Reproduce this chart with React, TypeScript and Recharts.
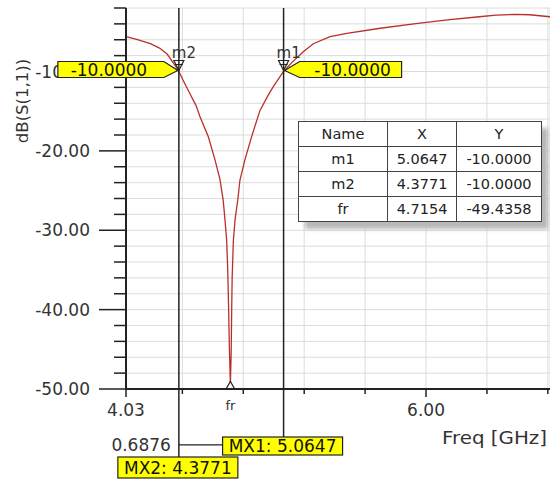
import {
  LineChart,
  Line,
  XAxis,
  YAxis,
  CartesianGrid,
  ReferenceLine,
  ReferenceDot,
} from "recharts";

// S11 sweep
const freqGHz = [
  4.03, 4.1, 4.19, 4.25, 4.3, 4.34, 4.3771, 4.41, 4.45, 4.49, 4.516, 4.57,
  4.614, 4.647, 4.668, 4.68, 4.691, 4.698, 4.704, 4.709, 4.7154, 4.721, 4.724,
  4.727, 4.735, 4.746, 4.765, 4.778, 4.811, 4.855, 4.91, 4.96, 4.997, 5.0647,
  5.12, 5.194, 5.26, 5.37, 5.48, 5.7, 5.92, 6.14, 6.35, 6.46, 6.58, 6.68, 6.814,
];
const s11dB = [
  -5.6, -5.95, -6.5, -7.05, -7.8, -8.9, -10.0, -11.3, -12.8, -14.3, -15.7,
  -18.2, -21.1, -23.6, -26.2, -28.7, -31.3, -35.0, -40.0, -45.0, -49.4358,
  -45.0, -40.0, -36.0, -31.3, -28.7, -26.0, -23.7, -21.1, -18.2, -14.9, -13.1,
  -11.9, -10.0, -8.85, -7.5, -6.5, -5.6, -5.2, -4.55, -4.0, -3.5, -3.1, -2.9,
  -2.8, -2.85, -3.1,
];

const xTicks = [4.03, 4.4, 4.8, 5.2, 5.6, 6.0, 6.4, 6.8];
const xLabelTicks = [4.03, 6.0];
const yTicks = [
  -50, -48, -46, -44, -42, -40, -38, -36, -34, -32, -30, -28, -26, -24, -22,
  -20, -18, -16, -14, -12, -10, -8, -6, -4, -2,
];

const markerNames = ["m1", "m2", "fr"];
const markerX = [5.0647, 4.3771, 4.7154];
const markerY = [-10.0, -10.0, -49.4358];
const connectorY = -57.05; // below the axis, where the delta line sits

const data = freqGHz.map((f, i) => ({ f, db: s11dB[i] }));

const FONT = "DejaVu Sans";
const INK = "#222";
const YELLOW = "#ffff00";
const X_DOMAIN = [4.03, 6.814];
const Y_DOMAIN = [-50, -2];
const W = 550;
const H = 479;
const AXIS_W = 126;
const AXIS_H = 90;

const YTick = ({ x, y, payload }: any) => {
  const v = payload.value;
  const major = v % 10 === 0;
  return (
    <g>
      <line x1={x - (major ? 27 : 12)} x2={x} y1={y} y2={y} stroke={INK} strokeWidth={1.5} />
      {major && (
        <text x={x - 36} y={y} textAnchor="end" dominantBaseline="central"
          fontFamily={FONT} fontSize={17} fill="#333">
          {v.toFixed(2)}
        </text>
      )}
    </g>
  );
};

const XTick = ({ x, y, payload }: any) => {
  const v = payload.value;
  const major = xLabelTicks.includes(v);
  return (
    <g>
      <line x1={x} x2={x} y1={y} y2={y + (major ? 8 : 5)} stroke={INK} strokeWidth={1.5} />
      {major && (
        <text x={x} y={y + 21} textAnchor="middle" dominantBaseline="central"
          fontFamily={FONT} fontSize={17} fill="#333">
          {v.toFixed(2)}
        </text>
      )}
    </g>
  );
};

const Callout = ({ cx, cy, side, name }: any) => {
  const pts =
    side === "left"
      ? [[cx - 121, cy - 10], [cx - 15, cy - 10], [cx - 1, cy - 1], [cx - 15, cy + 6], [cx - 121, cy + 6]]
      : [[cx + 1, cy - 1], [cx + 16, cy - 10], [cx + 118, cy - 10], [cx + 118, cy + 6], [cx + 16, cy + 6]];
  const tx = side === "left" ? cx - 70 : cx + 69;
  return (
    <g>
      <polygon points={pts.map((p) => p.join(",")).join(" ")} fill={YELLOW} stroke={INK} strokeWidth={1.2} />
      <text x={tx} y={cy - 2} textAnchor="middle" dominantBaseline="central"
        fontFamily={FONT} fontSize={17} fill="#111">
        {markerY[0].toFixed(4)}
      </text>
      <polygon points={`${cx - 5},${cy - 11} ${cx + 5},${cy - 11} ${cx},${cy - 1}`}
        fill="none" stroke={INK} strokeWidth={1.2} />
      <line x1={cx - 4} x2={cx + 4} y1={cy - 7} y2={cy - 7} stroke={INK} strokeWidth={1} />
      <text x={cx - 7} y={cy - 14} fontFamily={FONT} fontSize={15} fill="#333">{name}</text>
    </g>
  );
};

const ResDot = ({ cx, cy }: any) => (
  <g>
    <polygon points={`${cx - 4},${cy + 4} ${cx + 4},${cy + 4} ${cx},${cy - 3}`}
      fill="#fff" stroke={INK} strokeWidth={1.2} />
    <text x={cx} y={cy + 21} textAnchor="middle" dominantBaseline="central"
      fontFamily={FONT} fontSize={13} fill="#333">{markerNames[2]}</text>
  </g>
);

const MarkerLine = (drop: number, boxH: number, label: string, delta?: string) => (props: any) => {
  const { x1, y1, y2 } = props;
  const top = Math.min(y1, y2);
  const bottom = Math.max(y1, y2);
  const boxTop = bottom + drop;
  return (
    <g>
      <line x1={x1} x2={x1} y1={top} y2={boxTop} stroke={INK} strokeWidth={1.5} />
      {delta && (
        <text x={x1 - 8} y={bottom + 56} textAnchor="end" dominantBaseline="central"
          fontFamily={FONT} fontSize={17} fill="#333">{delta}</text>
      )}
      <rect x={x1 - 61} y={boxTop} width={120} height={boxH} fill={YELLOW} stroke={INK} strokeWidth={1.2} />
      <text x={x1 - 1} y={boxTop + boxH / 2} textAnchor="middle" dominantBaseline="central"
        fontFamily={FONT} fontSize={17} fill="#111">{label}</text>
    </g>
  );
};

const cell = { border: "1px solid #444", textAlign: "center" as const, padding: 0, height: 24 };

export default function App() {
  const delta = (markerX[0] - markerX[1]).toFixed(4);
  return (
    <div style={{ position: "absolute", left: 0, top: 0, width: W, height: H, overflow: "hidden", background: "#fff" }}>
      <LineChart width={W} height={H} data={data} margin={{ top: 8, right: 0, bottom: 0, left: 0 }}>
        <CartesianGrid stroke="#dcdcdc" strokeWidth={1} />
        <XAxis
          type="number"
          dataKey="f"
          domain={X_DOMAIN}
          ticks={xTicks}
          interval={0}
          allowDataOverflow
          height={AXIS_H}
          tickSize={0}
          tickMargin={0}
          tick={<XTick />}
          axisLine={{ stroke: INK, strokeWidth: 2 }}
          label={{
            content: ({ viewBox }: any) => (
              <text x={viewBox.x + viewBox.width - 3} y={viewBox.y + 48} textAnchor="end"
                dominantBaseline="central" fontFamily={FONT} fontSize={18} fill="#333"
                textLength={105} lengthAdjust="spacingAndGlyphs">
                Freq [GHz]
              </text>
            ),
          }}
        />
        <YAxis
          type="number"
          domain={Y_DOMAIN}
          ticks={yTicks}
          interval={0}
          width={AXIS_W}
          tickSize={0}
          tickMargin={0}
          tick={<YTick />}
          axisLine={{ stroke: INK, strokeWidth: 2 }}
          label={{
            content: ({ viewBox }: any) => (
              <text transform={`translate(${viewBox.x + 22},${viewBox.y + 93}) rotate(-90)`}
                textAnchor="middle" dominantBaseline="central" fontFamily={FONT} fontSize={16.5} fill="#333">
                dB(S(1,1))
              </text>
            ),
          }}
        />
        <Line
          type="linear"
          dataKey="db"
          stroke="#b8302c"
          strokeWidth={1.3}
          dot={false}
          isAnimationActive={false}
        />
        <ReferenceLine
          segment={[{ x: markerX[1], y: connectorY }, { x: markerX[0], y: connectorY }]}
          stroke={INK}
          strokeWidth={1.2}
          ifOverflow="visible"
        />
        <ReferenceLine x={markerX[1]} ifOverflow="visible"
          shape={MarkerLine(68, 21, `MX2: ${markerX[1].toFixed(4)}`, delta)} />
        <ReferenceLine x={markerX[0]} ifOverflow="visible"
          shape={MarkerLine(48, 18, `MX1: ${markerX[0].toFixed(4)}`)} />
        <ReferenceDot x={markerX[2]} y={markerY[2]} ifOverflow="visible"
          shape={(p: any) => <ResDot {...p} />} />
      </LineChart>

      {/* same scales again, only for the marker callouts so they sit above the axis */}
      <div style={{ position: "absolute", left: 0, top: 0, pointerEvents: "none" }}>
        <LineChart width={W} height={H} data={data} margin={{ top: 8, right: 0, bottom: AXIS_H, left: AXIS_W }}>
          <XAxis type="number" dataKey="f" domain={X_DOMAIN} allowDataOverflow hide />
          <YAxis type="number" domain={Y_DOMAIN} allowDataOverflow hide />
          <Line type="linear" dataKey="db" stroke="none" strokeOpacity={0} dot={false} activeDot={false}
            isAnimationActive={false} />
          <ReferenceDot x={markerX[1]} y={markerY[1]} ifOverflow="visible"
            shape={(p: any) => <Callout {...p} side="left" name={markerNames[1]} />} />
          <ReferenceDot x={markerX[0]} y={markerY[0]} ifOverflow="visible"
            shape={(p: any) => <Callout {...p} side="right" name={markerNames[0]} />} />
        </LineChart>
      </div>

      <div style={{ position: "absolute", left: 298, top: 121, width: 243, background: "#fff", boxShadow: "7px 7px 4px #b8b8b8" }}>
        <table style={{ borderCollapse: "collapse", width: 243, border: "1.5px solid #222", fontFamily: FONT, fontSize: 14.5, color: "#222", tableLayout: "fixed" }}>
          <colgroup>
            <col style={{ width: 89 }} />
            <col style={{ width: 69 }} />
            <col style={{ width: 85 }} />
          </colgroup>
          <tbody>
            <tr>
              <td style={cell}>Name</td>
              <td style={cell}>X</td>
              <td style={cell}>Y</td>
            </tr>
            {markerNames.map((n, i) => (
              <tr key={n}>
                <td style={cell}>{n}</td>
                <td style={cell}>{markerX[i].toFixed(4)}</td>
                <td style={cell}>{markerY[i].toFixed(4)}</td>
              </tr>
            ))}
          </tbody>
        </table>
      </div>
    </div>
  );
}
